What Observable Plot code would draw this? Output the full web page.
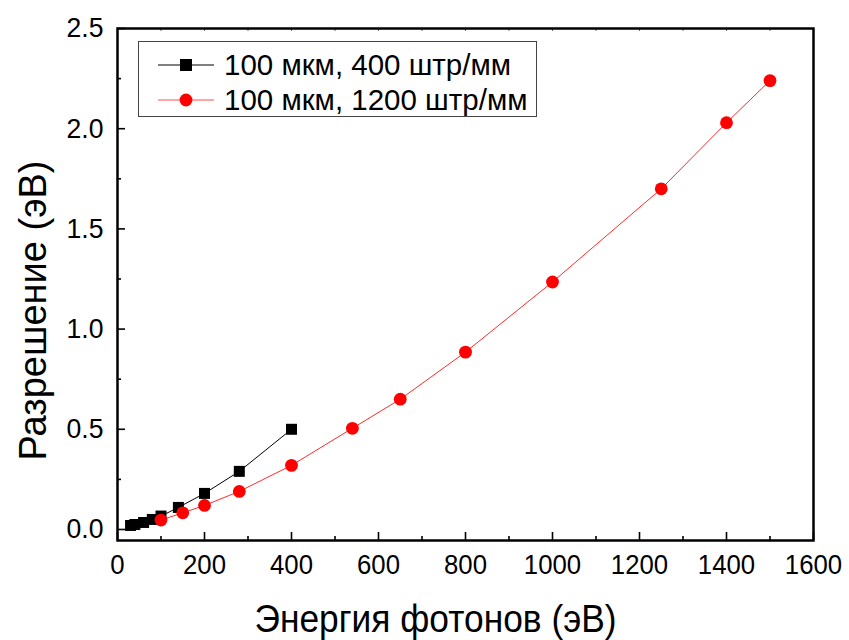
<!DOCTYPE html>
<html>
<head>
<meta charset="utf-8">
<script src="https://cdn.jsdelivr.net/npm/d3@7"></script>
<script src="https://cdn.jsdelivr.net/npm/@observablehq/plot@0.6"></script>
<style>
  html, body { margin: 0; padding: 0; background: #fff; }
  #wrap { position: relative; width: 849px; height: 640px; font-family: "Liberation Sans", Arial, sans-serif; }
  #legend { position: absolute; left: 138px; top: 41px; width: 397px; height: 74px;
            border: 1px solid #444; background: #fff; }
  .row { position: absolute; left: 0; height: 34px; display: flex; align-items: center; }
  .row svg { margin-left: 19px; margin-right: 10px; }
  .row span { font-size: 29.5px; color: #000; white-space: nowrap; }
</style>
</head>
<body>
<div id="wrap"></div>
<script>
// Photon energy (eV) and resolution (eV) for the two gratings
const energy400 = [30, 40, 60, 80, 100, 140, 200, 280, 400];
const res400    = [0.02, 0.025, 0.035, 0.05, 0.067, 0.11, 0.18, 0.29, 0.50];
const energy1200 = [100, 150, 200, 280, 400, 540, 650, 800, 1000, 1250, 1400, 1500];
const res1200    = [0.047, 0.083, 0.12, 0.19, 0.32, 0.505, 0.65, 0.885, 1.235, 1.70, 2.03, 2.24];

const seriesNames = ["100 мкм, 400 штр/мм", "100 мкм, 1200 штр/мм"];
const xTitle = "Энергия фотонов (эВ)";
const yTitle = "Разрешение (эВ)";

const xMajor = [0, 200, 400, 600, 800, 1000, 1200, 1400, 1600];
const xMinor = [100, 300, 500, 700, 900, 1100, 1300, 1500];
const yMajor = [0, 0.5, 1.0, 1.5, 2.0, 2.5];
const yMinor = [0.25, 0.75, 1.25, 1.75, 2.25];

const s400 = energy400.map((x, i) => ({x, y: res400[i]}));
const s1200 = energy1200.map((x, i) => ({x, y: res1200[i]}));

const W = 849, H = 640, mL = 117, mR = 36, mT = 28, mB = 100;
const fw = W - mL - mR, fh = H - mT - mB;
const font = '"Liberation Sans", Arial, sans-serif';

const chart = Plot.plot({
  width: W, height: H,
  marginLeft: mL, marginRight: mR, marginTop: mT, marginBottom: mB,
  style: {fontFamily: font, background: "#fff", overflow: "visible"},
  x: {domain: [0, 1600]},
  y: {domain: [-0.055, 2.5]},
  marks: [
    // inward tick marks
    Plot.ruleX(xMajor, {x: d => d, insetTop: fh - 8, stroke: "#000", strokeWidth: 1.6}),
    Plot.ruleX(xMinor, {x: d => d, insetTop: fh - 4, stroke: "#000", strokeWidth: 1.6}),
    Plot.ruleX(xMajor.concat(xMinor), {x: d => d, insetBottom: fh - 3, stroke: "#666", strokeWidth: 1}),
    Plot.ruleY(yMajor, {y: d => d, insetRight: fw - 8, stroke: "#000", strokeWidth: 1.6}),
    Plot.ruleY(yMinor, {y: d => d, insetRight: fw - 4, stroke: "#000", strokeWidth: 1.6}),
    // tick labels
    Plot.axisX({ticks: xMajor, label: null, tickSize: 0, tickPadding: 14, fontSize: 28, tickFormat: d => String(d), fill: "#000"}),
    Plot.axisY({ticks: yMajor, label: null, tickSize: 0, tickPadding: 14, fontSize: 28, tickFormat: d => d.toFixed(1), fill: "#000"}),
    // axis titles
    Plot.text([xTitle], {text: d => d, frameAnchor: "bottom", textAnchor: "middle", dy: 91, dx: -30, fontSize: 38, fill: "#000"}),
    Plot.text([yTitle], {text: d => d, frameAnchor: "left", textAnchor: "middle", dx: -84, dy: 26, rotate: -90, fontSize: 38, fill: "#000"}),
    // series
    Plot.line(s400, {x: "x", y: "y", stroke: "#000", strokeWidth: 1}),
    Plot.dot(s400, {x: "x", y: "y", symbol: "square", r: 6.2, fill: "#000", stroke: "none"}),
    Plot.line(s1200, {x: "x", y: "y", stroke: "#ff2a2a", strokeWidth: 1}),
    Plot.dot(s1200, {x: "x", y: "y", symbol: "circle", r: 6.4, fill: "#ff0000", stroke: "none"}),
    // frame
    Plot.frame({stroke: "#000", strokeWidth: 2.5})
  ]
});

// narrow horizontal texts slightly around their own anchor point
function narrow(el, s) {
  const t = el.getAttribute("transform") || "";
  if (t.includes("rotate")) return;
  const xa = el.getAttribute("x");
  let x = 0;
  if (xa !== null && isFinite(+xa)) { x = +xa; el.removeAttribute("x"); }
  el.setAttribute("transform", `${t} translate(${x},0) scale(${s},1)`.trim());
}
chart.querySelectorAll('g[aria-label="x-axis tick label"] text').forEach(t => narrow(t, 0.92));
chart.querySelectorAll('g[aria-label="y-axis tick label"] text').forEach(t => narrow(t, 0.95));
chart.querySelectorAll('g[aria-label="text"] text').forEach(t => {
  if (t.textContent === xTitle) narrow(t, 0.93);
});

const wrap = document.getElementById("wrap");
wrap.appendChild(chart);

// legend box inside the plot area
const legend = document.createElement("div");
legend.id = "legend";
const swatches = [
  {color: "#000", line: "#000", shape: "square"},
  {color: "#ff0000", line: "#ff4d4d", shape: "circle"}
];
seriesNames.forEach((name, i) => {
  const row = document.createElement("div");
  row.className = "row";
  row.style.top = (i === 0 ? 6 : 41) + "px";
  const sw = swatches[i];
  const marker = sw.shape === "square"
    ? `<rect x="22" y="11" width="12" height="12" fill="${sw.color}"/>`
    : `<circle cx="28" cy="17" r="6.4" fill="${sw.color}"/>`;
  row.innerHTML = `<svg width="56" height="34"><line x1="0" x2="56" y1="17" y2="17" stroke="${sw.line}" stroke-width="1"/>${marker}</svg><span>${name}</span>`;
  legend.appendChild(row);
});
wrap.appendChild(legend);
</script>
</body>
</html>
